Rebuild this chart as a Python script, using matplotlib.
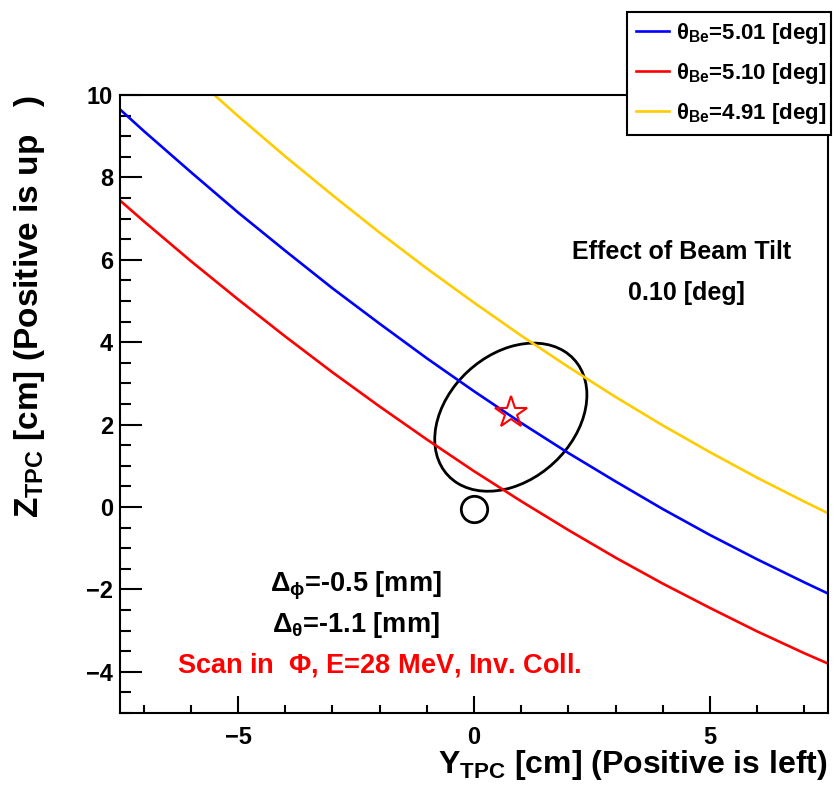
import matplotlib
matplotlib.use("Agg")
import matplotlib.pyplot as plt
from matplotlib.patches import Ellipse
from matplotlib.ticker import MultipleLocator

plt.rcParams['font.family'] = ['Liberation Sans', 'DejaVu Sans']
plt.rcParams['font.weight'] = 'bold'
plt.rcParams['mathtext.fontset'] = 'custom'
plt.rcParams['mathtext.rm'] = 'Liberation Sans:bold'
plt.rcParams['mathtext.it'] = 'Liberation Sans:bold'
plt.rcParams['mathtext.bf'] = 'Liberation Sans:bold'
plt.rcParams['mathtext.default'] = 'rm'

# track of the scattered particle on the TPC plane for three beam angles
blue_y = [-7.5, -7, -6, -5, -4, -3, -2, -1, 0, 1, 2, 3, 4, 5, 6, 7, 7.5]
blue_z = [9.65, 9.13, 8.13, 7.15, 6.22, 5.31, 4.45, 3.61, 2.81, 2.04,
          1.31, 0.62, -0.05, -0.68, -1.27, -1.83, -2.1]

red_y = [-7.5, -7, -6, -5, -4, -3, -2, -1, 0, 1, 2, 3, 4, 5, 6, 7, 7.5]
red_z = [7.44, 6.94, 5.97, 5.04, 4.14, 3.27, 2.44, 1.64, 0.87, 0.14,
         -0.56, -1.23, -1.86, -2.45, -3.02, -3.55, -3.8]

yellow_y = [-5.5, -5, -4, -3, -2, -1, 0, 1, 2, 3, 4, 5, 6, 7, 7.5]
yellow_z = [10.0, 9.49, 8.51, 7.57, 6.66, 5.79, 4.96, 4.16, 3.40, 2.67,
            1.98, 1.33, 0.71, 0.13, -0.15]

labels = [r'$\theta_{Be}$=5.01 [deg]', r'$\theta_{Be}$=5.10 [deg]',
          r'$\theta_{Be}$=4.91 [deg]']

# beam spot, fitted vertex and error ellipse
origin = (0.0, -0.05)
vertex = (0.78, 2.27)
ell_center = (0.78, 2.18)
ell_width, ell_height, ell_angle = 3.92, 2.82, 55.0

fig = plt.figure(figsize=(8.33, 7.93), dpi=100)
ax = fig.add_axes([120/833, 80/793, 708/833, 618/793])

ax.plot(blue_y, blue_z, color='#0000ff', lw=1.9, label=labels[0])
ax.plot(red_y, red_z, color='#ff0000', lw=1.9, label=labels[1])
ax.plot(yellow_y, yellow_z, color='#ffcc00', lw=1.9, label=labels[2])

ax.add_patch(Ellipse(ell_center, ell_width, ell_height, angle=ell_angle,
                     fill=False, edgecolor='black', lw=2.0))
ax.plot(*origin, marker='o', ms=19, mfc='none', mec='black', mew=2.0)
ax.plot(*vertex, marker='*', ms=24, mfc='none', mec='#ff0000', mew=1.5)

ax.set_xlim(-7.5, 7.5)
ax.set_ylim(-5, 10)
ax.xaxis.set_major_locator(MultipleLocator(5))
ax.xaxis.set_minor_locator(MultipleLocator(1))
ax.yaxis.set_major_locator(MultipleLocator(2))
ax.yaxis.set_minor_locator(MultipleLocator(0.5))
ax.tick_params(axis='x', which='major', direction='in', length=12, width=1.5,
               labelsize=17, pad=9)
ax.tick_params(axis='x', which='minor', direction='in', length=6, width=1.5)
ax.tick_params(axis='y', which='major', direction='in', length=16, width=1.5,
               labelsize=17, pad=5)
ax.tick_params(axis='y', which='minor', direction='in', length=8, width=1.5)
for s in ax.spines.values():
    s.set_linewidth(1.5)

ax.set_xlabel(r'Y$_{TPC}$ [cm] (Positive is left)', fontsize=23,
              fontweight='bold', loc='right')
ax.set_ylabel(r'Z$_{TPC}$ [cm] (Positive is up   )', fontsize=24,
              fontweight='bold', loc='top')
ax.xaxis.set_label_coords(1.0, -0.056)
ax.yaxis.set_label_coords(-0.103, 1.0)

ax.text(4.4, 6.2, 'Effect of Beam Tilt', fontsize=18, ha='center', va='center')
ax.text(4.5, 5.2, '0.10 [deg]', fontsize=18, ha='center', va='center')
ax.text(-2.5, -1.92, r'$\Delta_{\phi}$=-0.5 [mm]', fontsize=19.5, ha='center', va='center')
ax.text(-2.5, -2.87, r'$\Delta_{\theta}$=-1.1 [mm]', fontsize=19.5, ha='center', va='center')
ax.text(-2.0, -3.83, r'Scan in  $\Phi$, E=28 MeV, Inv. Coll.', fontsize=19.5,
        color='#ff0000', ha='center', va='center')

leg = ax.legend(loc='upper left', bbox_to_anchor=(627/833, 1 - 12/793, 204/833, 0),
                bbox_transform=fig.transFigure, mode='expand', fontsize=16,
                frameon=True, fancybox=False, edgecolor='black', framealpha=1,
                borderpad=0.4, labelspacing=0.68, handlelength=1.5,
                handletextpad=0.3, borderaxespad=0)
leg.get_frame().set_linewidth(1.5)

fig.savefig('out.png', dpi=100)
